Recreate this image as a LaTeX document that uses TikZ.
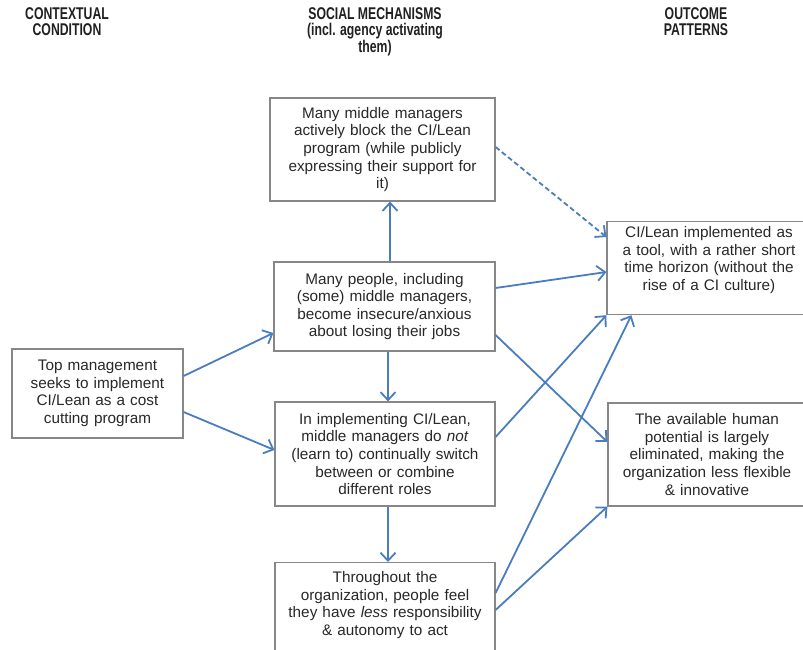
\documentclass[tikz,border=0pt]{standalone}
\usepackage{fontspec}
\setmainfont{Liberation Sans}
\newfontfamily\headfont[FakeStretch=0.72]{Liberation Sans}
\usepackage{tikz}
\usetikzlibrary{arrows.meta,positioning,calc}
\definecolor{ink}{RGB}{40,40,40}
\definecolor{frame}{RGB}{135,135,135}
\definecolor{flow}{RGB}{74,125,189}
\tikzset{
  head/.style={font=\headfont\fontsize{17}{16.8}\selectfont\bfseries,align=center,text=ink!80!black,inner sep=0pt},
  box/.style={draw=frame,line width=1.2pt,fill=white,align=center,text=ink,inner xsep=5pt,inner ysep=4pt,font=\fontsize{15.3}{17.6}\selectfont},
  arrow/.style={-{Straight Barb[length=8pt,width=15pt]},line width=1.8pt,draw=flow},
  dasharrow/.style={arrow,dash pattern=on 5pt off 3pt}
}
\begin{document}
\begin{tikzpicture}[x=1pt,y=-1pt]
  \useasboundingbox (0,0) rectangle (803,650);

  \node[head,anchor=north] (hcontext) at (67,7) {CONTEXTUAL\\CONDITION};
  \node[head,anchor=north] (hmechanism) at (375,7) {SOCIAL MECHANISMS\\(incl. agency activating\\them)};
  \node[head,anchor=north] (houtcome) at (696,7) {OUTCOME\\PATTERNS};

  \node[box,text width=161,minimum height=89] (topmgmt) at (97.5,393.5)
    {Top management\\seeks to implement\\CI/Lean as a cost\\cutting program};

  \node[box,text width=215,minimum height=103] (block) at (382.5,149.5)
    {Many middle managers\\actively block the CI/Lean\\program (while publicly\\expressing their support for\\it)};
  \node[box,text width=211,minimum height=89] (anxious) at (384.5,306.5)
    {Many people, including\\(some) middle managers,\\become insecure/anxious\\about losing their jobs};
  \node[box,text width=210,minimum height=104] (roles) at (385,454)
    {In implementing CI/Lean,\\middle managers do \textit{not}\\(learn to) continually switch\\between or combine\\different roles};
  \node[box,anchor=north,text width=210,inner ysep=9pt,text height=11pt,text depth=100pt] (less) at (385,562)
    {Throughout the\\organization, people feel\\they have \textit{less} responsibility\\\& autonomy to act};

  \node[box,anchor=north,text width=194,inner ysep=5pt,text height=11pt,text depth=72pt] (tool) at (709,221)
    {CI/Lean implemented as\\a tool, with a rather short\\time horizon (without the\\rise of a CI culture)};
  \node[box,text width=188,minimum height=103] (potential) at (707,454.5)
    {The available human\\potential is largely\\eliminated, making the\\organization less flexible\\\& innovative};

  \draw[arrow] ($(topmgmt.east)+(0,-17.5)$) -- ($(anxious.west)+(0,26.5)$);
  \draw[arrow] ($(topmgmt.east)+(0,18.5)$) -- ($(roles.west)+(0,-4)$);

  \draw[arrow] ($(anxious.north)+(5.5,0)$) -- ($(block.south)+(7.5,0)$);
  \draw[arrow] ($(anxious.south)+(3.5,0)$) -- ($(roles.north)+(3,0)$);
  \draw[arrow] ($(roles.south)+(3,0)$) -- ($(less.north)+(3,0)$);

  \draw[dasharrow] ($(block.east)+(0,-2.5)$) -- ($(tool.north west)+(0,16)$);
  \draw[arrow] ($(anxious.east)+(0,-18.5)$) -- ($(tool.north west)+(0,51)$);
  \draw[arrow] ($(anxious.east)+(0,28.5)$) -- ($(potential.west)+(0,-12.5)$);
  \draw[arrow] ($(roles.east)+(0,-17)$) -- (tool.south west);
  \draw[arrow] ($(less.north east)+(0,31)$) -- ($(tool.south west)+(25,0)$);
  \draw[arrow] ($(less.north east)+(0,48)$) -- (potential.south west);
\end{tikzpicture}
\end{document}
